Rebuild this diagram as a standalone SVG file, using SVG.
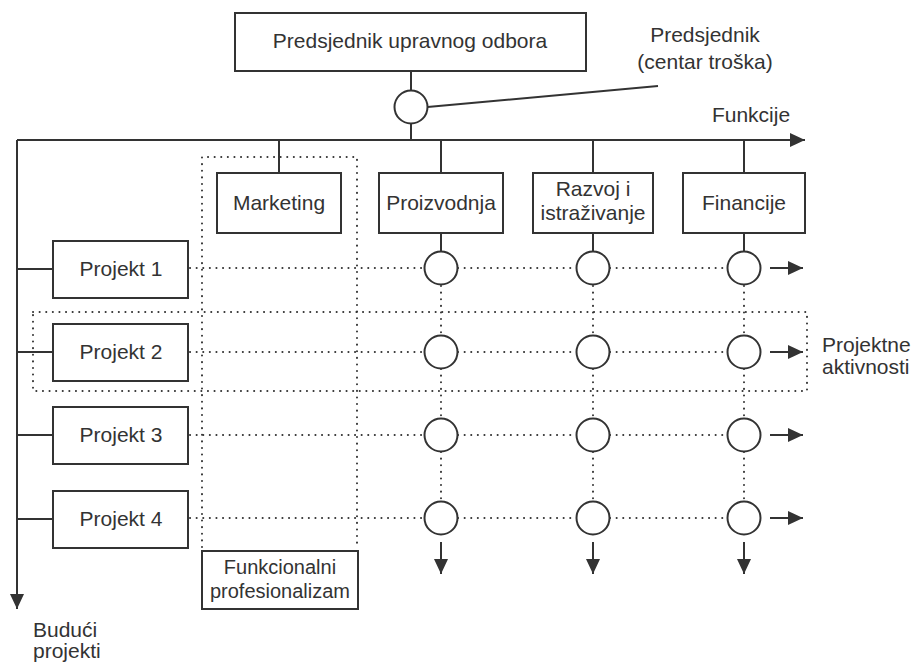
<svg xmlns="http://www.w3.org/2000/svg" width="916" height="666" viewBox="0 0 916 666">
<style>
  text { font-family: "Liberation Sans", Arial, sans-serif; font-size: 21px; fill: #333; }
  .c { text-anchor: middle; }
  .box { fill: #fff; stroke: #333; stroke-width: 2; }
  .ln { fill: none; stroke: #333; stroke-width: 2; }
  .dot { fill: none; stroke: #333; stroke-width: 2; stroke-dasharray: 0.1 6.5; stroke-linecap: round; }
  .circ { fill: #fff; stroke: #333; stroke-width: 2; }
</style>
<defs>
  <marker id="ah" viewBox="0 0 15 14" refX="15" refY="7" markerWidth="15" markerHeight="14" markerUnits="userSpaceOnUse" orient="auto">
    <path d="M0,0 L15,7 L0,14 Z" fill="#333"/>
  </marker>
</defs>
<rect width="916" height="666" fill="#fff"/>

<g id="groups">
  <path class="dot" d="M202,547 V157 H357 V547"/>
  <rect class="dot" x="33" y="312" width="774" height="79"/>
</g>

<g id="connectors">
  <line class="ln" x1="411" y1="71" x2="411" y2="90.5"/>
  <line class="ln" x1="411" y1="123.5" x2="411" y2="140"/>
  <line class="ln" x1="427.5" y1="107" x2="658" y2="86"/>
  <line class="ln" x1="17" y1="140" x2="805" y2="140" marker-end="url(#ah)"/>
  <line class="ln" x1="17" y1="140" x2="17" y2="609" marker-end="url(#ah)"/>
  <line class="ln" x1="279" y1="140" x2="279" y2="173"/>
  <line class="ln" x1="441" y1="140" x2="441" y2="173"/>
  <line class="ln" x1="593" y1="140" x2="593" y2="173"/>
  <line class="ln" x1="744" y1="140" x2="744" y2="173"/>
  <line class="ln" x1="441" y1="233" x2="441" y2="251.5"/>
  <line class="ln" x1="593" y1="233" x2="593" y2="251.5"/>
  <line class="ln" x1="744" y1="233" x2="744" y2="251.5"/>
  <line class="ln" x1="17" y1="269" x2="53" y2="269"/>
  <line class="ln" x1="17" y1="352" x2="53" y2="352"/>
  <line class="ln" x1="17" y1="435" x2="53" y2="435"/>
  <line class="ln" x1="17" y1="519" x2="53" y2="519"/>
  <!-- dotted rows -->
  <path class="dot" d="M190,268 H424 M458,268 H576 M610,268 H727"/>
  <path class="dot" d="M190,352 H424 M458,352 H576 M610,352 H727"/>
  <path class="dot" d="M190,435 H424 M458,435 H576 M610,435 H727"/>
  <path class="dot" d="M190,518 H424 M458,518 H576 M610,518 H727"/>
  <!-- dotted columns -->
  <path class="dot" d="M441,286 V335 M441,369 V418 M441,452 V501"/>
  <path class="dot" d="M593,286 V335 M593,369 V418 M593,452 V501"/>
  <path class="dot" d="M744,286 V335 M744,369 V418 M744,452 V501"/>
  <!-- right arrows -->
  <line class="ln" x1="770" y1="268" x2="803" y2="268" marker-end="url(#ah)"/>
  <line class="ln" x1="770" y1="352" x2="803" y2="352" marker-end="url(#ah)"/>
  <line class="ln" x1="770" y1="435" x2="803" y2="435" marker-end="url(#ah)"/>
  <line class="ln" x1="770" y1="518" x2="803" y2="518" marker-end="url(#ah)"/>
  <!-- down arrows -->
  <line class="ln" x1="441" y1="542" x2="441" y2="574" marker-end="url(#ah)"/>
  <line class="ln" x1="593" y1="542" x2="593" y2="574" marker-end="url(#ah)"/>
  <line class="ln" x1="744" y1="542" x2="744" y2="574" marker-end="url(#ah)"/>
</g>

<g id="predsjednik-odbora">
  <rect class="box" x="235" y="13" width="351" height="58"/>
  <text class="c" x="410" y="48">Predsjednik upravnog odbora</text>
</g>
<g id="predsjednik-cvor">
  <circle class="circ" cx="411" cy="107" r="16.5"/>
</g>
<g id="predsjednik-label">
  <text class="c" x="705" y="42">Predsjednik</text>
  <text class="c" x="705" y="69">(centar troška)</text>
</g>
<g id="funkcije-label">
  <text class="c" x="751" y="122">Funkcije</text>
</g>

<g id="marketing">
  <rect class="box" x="217" y="173" width="124" height="60"/>
  <text class="c" x="279" y="210">Marketing</text>
</g>
<g id="proizvodnja">
  <rect class="box" x="379" y="173" width="124" height="60"/>
  <text class="c" x="441" y="210">Proizvodnja</text>
</g>
<g id="razvoj">
  <rect class="box" x="533" y="173" width="120" height="60"/>
  <text class="c" x="593" y="196">Razvoj i</text>
  <text class="c" x="593" y="220">istraživanje</text>
</g>
<g id="financije">
  <rect class="box" x="683" y="173" width="122" height="60"/>
  <text class="c" x="744" y="210">Financije</text>
</g>

<g id="projekt1">
  <rect class="box" x="53" y="241" width="135" height="57"/>
  <text class="c" x="121" y="276">Projekt 1</text>
</g>
<g id="projekt2">
  <rect class="box" x="53" y="324" width="135" height="57"/>
  <text class="c" x="121" y="359">Projekt 2</text>
</g>
<g id="projekt3">
  <rect class="box" x="53" y="407" width="135" height="57"/>
  <text class="c" x="121" y="442">Projekt 3</text>
</g>
<g id="projekt4">
  <rect class="box" x="53" y="491" width="135" height="57"/>
  <text class="c" x="121" y="526">Projekt 4</text>
</g>

<g id="cvorovi">
  <circle class="circ" cx="441" cy="268" r="16.5"/>
  <circle class="circ" cx="593" cy="268" r="16.5"/>
  <circle class="circ" cx="744" cy="268" r="16.5"/>
  <circle class="circ" cx="441" cy="352" r="16.5"/>
  <circle class="circ" cx="593" cy="352" r="16.5"/>
  <circle class="circ" cx="744" cy="352" r="16.5"/>
  <circle class="circ" cx="441" cy="435" r="16.5"/>
  <circle class="circ" cx="593" cy="435" r="16.5"/>
  <circle class="circ" cx="744" cy="435" r="16.5"/>
  <circle class="circ" cx="441" cy="518" r="16.5"/>
  <circle class="circ" cx="593" cy="518" r="16.5"/>
  <circle class="circ" cx="744" cy="518" r="16.5"/>
</g>

<g id="funkcionalni">
  <rect class="box" x="202" y="551" width="156" height="58"/>
  <text class="c" x="280" y="574" style="font-size:20px">Funkcionalni</text>
  <text class="c" x="280" y="598" style="font-size:20px">profesionalizam</text>
</g>
<g id="projektne-label">
  <text x="822" y="352">Projektne</text>
  <text x="822" y="374">aktivnosti</text>
</g>
<g id="buduci-label">
  <text x="33" y="637">Budući</text>
  <text x="33" y="658">projekti</text>
</g>
</svg>
